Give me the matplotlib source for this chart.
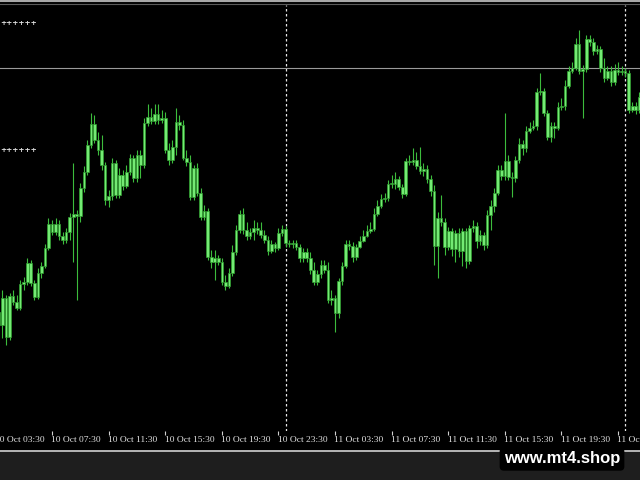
import matplotlib
matplotlib.use('Agg')
import matplotlib.pyplot as plt
import matplotlib.transforms as mtransforms
from matplotlib.patches import Rectangle
from matplotlib.lines import Line2D
import numpy as np

# ---- data (price in points, M15 bars; bar 0 = 10 Oct 03:30) ----
first_open = 119
closes = [106, 133, 94, 135, 129, 123, 147, 149, 168, 148,
          134, 158, 165, 183, 207, 199, 207, 195, 191, 199,
          214, 217, 215, 243, 259, 286, 307, 291, 281, 266,
          231, 235, 268, 236, 256, 245, 259, 273, 253, 276,
          266, 308, 314, 310, 317, 311, 313, 281, 271, 284,
          309, 306, 273, 269, 234, 263, 238, 214, 220, 174,
          169, 173, 169, 149, 145, 158, 179, 201, 217, 201,
          195, 199, 203, 201, 196, 191, 180, 187, 183, 198,
          202, 188, 187, 188, 184, 173, 179, 173, 161, 149,
          157, 166, 161, 131, 133, 118, 150, 165, 187, 185,
          174, 184, 190, 195, 200, 202, 217, 225, 232, 233,
          247, 247, 252, 244, 237, 270, 269, 271, 265, 260,
          262, 252, 240, 185, 213, 209, 184, 200, 182, 198,
          180, 200, 170, 203, 205, 190, 196, 186, 216, 225,
          238, 261, 255, 270, 254, 253, 271, 287, 283, 300,
          303, 305, 339, 340, 318, 294, 305, 303, 324, 325,
          345, 360, 363, 387, 360, 362, 392, 389, 380, 382,
          363, 353, 360, 349, 361, 359, 360, 358, 321, 325,
          321, 334]
highs = [126, 141, 136, 138, 141, 136, 151, 154, 173, 171,
         151, 163, 169, 187, 213, 211, 213, 211, 199, 203,
         218, 268, 221, 248, 265, 291, 318, 316, 299, 296,
         269, 241, 273, 271, 263, 261, 266, 277, 276, 281,
         281, 313, 327, 323, 327, 327, 321, 319, 288, 291,
         323, 316, 311, 281, 276, 266, 268, 243, 226, 223,
         181, 181, 176, 173, 156, 163, 186, 206, 221, 223,
         209, 203, 211, 209, 209, 201, 195, 191, 189, 203,
         206, 205, 191, 191, 191, 187, 183, 183, 179, 169,
         161, 171, 171, 169, 141, 136, 153, 169, 191, 191,
         189, 187, 195, 201, 206, 209, 223, 231, 237, 238,
         251, 256, 259, 255, 247, 273, 276, 283, 279, 284,
         268, 266, 256, 246, 219, 236, 213, 204, 203, 201,
         203, 203, 203, 206, 211, 209, 201, 199, 221, 231,
         243, 266, 266, 318, 276, 259, 275, 293, 291, 305,
         309, 311, 343, 358, 343, 321, 309, 309, 329, 333,
         351, 365, 369, 393, 401, 366, 396, 396, 393, 386,
         385, 373, 365, 365, 367, 369, 365, 363, 361, 329,
         329, 339]
lows = [101, 93, 86, 91, 126, 121, 121, 141, 146, 145,
        131, 132, 153, 163, 181, 196, 196, 191, 187, 188,
        191, 169, 131, 209, 239, 256, 283, 288, 276, 261,
        226, 224, 231, 233, 233, 241, 243, 256, 249, 249,
        253, 263, 305, 307, 307, 307, 308, 278, 266, 268,
        276, 301, 271, 265, 231, 231, 235, 211, 211, 171,
        163, 151, 166, 146, 141, 143, 155, 176, 198, 197,
        191, 192, 191, 197, 193, 188, 176, 178, 179, 181,
        195, 184, 184, 183, 181, 169, 169, 169, 157, 146,
        146, 153, 158, 128, 126, 99, 113, 146, 163, 181,
        169, 171, 183, 189, 194, 198, 200, 215, 223, 229,
        230, 243, 242, 241, 233, 235, 266, 266, 262, 257,
        255, 248, 235, 166, 153, 205, 176, 181, 175, 169,
        174, 165, 163, 167, 199, 183, 186, 181, 183, 201,
        219, 236, 251, 251, 251, 234, 249, 268, 276, 279,
        298, 301, 301, 336, 315, 291, 289, 293, 301, 321,
        321, 343, 358, 361, 357, 313, 359, 385, 376, 377,
        359, 349, 351, 345, 346, 356, 356, 354, 318, 319,
        317, 318]
tick_bars = [0, 16, 32, 48, 64, 80, 96, 112, 128, 144, 160, 176]
tick_labels = ["10 Oct 03:30", "10 Oct 07:30", "10 Oct 11:30", "10 Oct 15:30",
               "10 Oct 19:30", "10 Oct 23:30", "11 Oct 03:30", "11 Oct 07:30",
               "11 Oct 11:30", "11 Oct 15:30", "11 Oct 19:30", "11 Oct 23:30"]
separator_bars = [82, 178]      # day separators (11 Oct 00:00, 12 Oct 00:00)
hline_level = 363
plus_levels = [408, 281]

opens = [first_open] + closes[:-1]
n = len(closes)
xb = np.arange(1, n + 1)

W, H = 640, 480
fig = plt.figure(figsize=(6.4, 4.8), dpi=100, facecolor='black')
ax = fig.add_axes([0, 49 / H, 1, 426 / H])
ax.set_facecolor('black')
for s in ax.spines.values():
    s.set_visible(False)
ax.set_yticks([])
ax.set_xticks(tick_bars)
ax.tick_params(axis='x', direction='out', length=3, width=0.8,
               color='#cfcfcf', labelbottom=False)

ax.axhline(hline_level, color='#9a9a9a', lw=0.8, zorder=1)
for b in separator_bars:
    ax.axvline(b, color='#e6e6e6', lw=0.9, ls=(0, (2, 2)), zorder=1)

o = np.array(opens, dtype=float)
c = np.array(closes, dtype=float)
ax.vlines(xb, lows, highs, color='#3cbc3c', lw=0.8, zorder=2)
bottom = np.minimum(o, c)
height = np.maximum(np.abs(c - o), 0.8)
ax.bar(xb, height, bottom=bottom, width=0.74, color='#74ea74',
       edgecolor='#2f9e2f', linewidth=0.5, zorder=3)

# view limits set last (set_xticks would otherwise expand them)
ax.set_xlim(1.30, 182.2)
ax.set_ylim(0, 426)

# plus-sign level markers at left
tr_ay = mtransforms.blended_transform_factory(ax.transAxes, ax.transData)
for lv in plus_levels:
    ax.text(0.0, lv, "++++++", transform=tr_ay, ha='left', va='center',
            fontsize=5.2, fontweight='bold', color='#e0e0e0')

# time labels
tr_xa = mtransforms.blended_transform_factory(ax.transData, ax.transAxes)
for b, lab in zip(tick_bars, tick_labels):
    ax.text(b - 0.2, -9 / 426, lab, transform=tr_xa, ha='left', va='center',
            fontsize=6.8, color='#e0e0e0', clip_on=False,
            family=['Liberation Serif'])

# frame decorations
fig.patches.append(Rectangle((0, 0), 1, 28 / H, transform=fig.transFigure,
                             color='#1e1e1e', zorder=0))
fig.lines.append(Line2D([0, 1], [1 - 450.8 / H] * 2, transform=fig.transFigure,
                        color='#e8e8e8', lw=1.1))
fig.lines.append(Line2D([0, 1], [1 - 1 / H] * 2, transform=fig.transFigure,
                        color='#a8a8a8', lw=1.5))
fig.lines.append(Line2D([0, 1], [1 - 4 / H] * 2, transform=fig.transFigure,
                        color='#5a5a5a', lw=0.8))

fig.text(562 / W, 1 - 459 / H, "www.mt4.shop", ha='center', va='center',
         fontsize=12, fontweight='bold', color='white', family='Liberation Sans',
         bbox=dict(boxstyle='round,pad=0.25', fc='black', ec='none'))

fig.savefig('out.png', dpi=100, facecolor='black')
